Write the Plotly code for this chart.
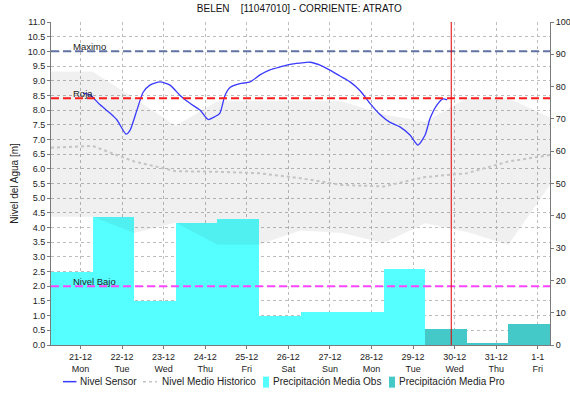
import plotly.graph_objects as go

# ---------------- data ----------------
# daily precipitation (mm) – days run 07:00 to 07:00
obs_centers = ["2020-12-20 19:00", "2020-12-21 19:00", "2020-12-22 19:00", "2020-12-23 19:00",
               "2020-12-24 19:00", "2020-12-25 19:00", "2020-12-26 19:00", "2020-12-27 19:00",
               "2020-12-28 19:00"]
obs_precip = [22.7, 39.5, 13.6, 37.9, 38.9, 9.1, 10.3, 10.3, 23.6]

pro_centers = ["2020-12-29 19:00", "2020-12-30 19:00", "2020-12-31 19:00"]
pro_precip = [4.9, 0.4, 6.5]

# historic band and mean (m), daily points at 07:00
hist_times = ["2020-12-20 07:00", "2020-12-21 07:00", "2020-12-22 07:00", "2020-12-23 07:00",
              "2020-12-24 07:00", "2020-12-25 07:00", "2020-12-26 07:00", "2020-12-27 07:00",
              "2020-12-28 07:00", "2020-12-29 07:00", "2020-12-30 07:00", "2020-12-31 07:00",
              "2021-01-01 07:00"]
hist_max = [9.31, 9.31, 8.40, 7.47, 8.30, 8.32, 8.32, 8.30, 7.85, 7.60, 8.40, 8.40, 7.75]
hist_min = [4.37, 4.37, 3.81, 4.16, 3.41, 3.41, 3.90, 3.81, 3.47, 4.15, 3.85, 3.41, 5.45]
hist_mean = [6.72, 6.78, 6.25, 5.92, 5.90, 5.85, 5.68, 5.45, 5.40, 5.72, 5.85, 6.25, 6.47]

# sensor level (m)
sensor_times = ["2020-12-21 01:30", "2020-12-21 05:30", "2020-12-21 11:20", "2020-12-21 17:00",
                "2020-12-21 21:00", "2020-12-22 02:20", "2020-12-22 04:36", "2020-12-22 08:36",
                "2020-12-22 12:06", "2020-12-22 16:06", "2020-12-22 21:54", "2020-12-23 03:42",
                "2020-12-23 09:30", "2020-12-23 15:12", "2020-12-23 21:00", "2020-12-24 01:36",
                "2020-12-24 05:42", "2020-12-24 08:30", "2020-12-24 11:24", "2020-12-24 14:18",
                "2020-12-24 20:06", "2020-12-25 01:54", "2020-12-25 07:36", "2020-12-25 13:24",
                "2020-12-25 19:12", "2020-12-26 01:00", "2020-12-26 06:42", "2020-12-26 12:30",
                "2020-12-26 18:18", "2020-12-27 00:00", "2020-12-27 05:48", "2020-12-27 11:36",
                "2020-12-27 17:24", "2020-12-27 23:06", "2020-12-28 04:54", "2020-12-28 10:42",
                "2020-12-28 16:24", "2020-12-28 22:12", "2020-12-29 02:48", "2020-12-29 06:54",
                "2020-12-29 09:48", "2020-12-29 13:48", "2020-12-29 17:18", "2020-12-29 19:36"]
sensor_level = [8.57, 8.52, 8.18, 7.90, 7.67, 7.18, 7.31, 8.00, 8.60, 8.85, 8.96, 8.85,
                8.50, 8.23, 8.00, 7.68, 7.78, 7.90, 8.50, 8.77, 8.90, 8.96, 9.20, 9.37,
                9.47, 9.56, 9.60, 9.63, 9.53, 9.36, 9.16, 8.96, 8.66, 8.23, 7.85, 7.58,
                7.43, 7.15, 6.81, 7.15, 7.72, 8.18, 8.38, 8.35]

# thresholds (m)
thr_names = ["Maximo", "Roja", "Nivel Bajo"]
thr_values = [10.0, 8.4, 2.0]
thr_colors = ["#6272A4", "#FF1A1A", "#FF44FF"]

now_time = "2020-12-29 22:00"

tick_vals = ["2020-12-21", "2020-12-22", "2020-12-23", "2020-12-24", "2020-12-25", "2020-12-26",
             "2020-12-27", "2020-12-28", "2020-12-29", "2020-12-30", "2020-12-31", "2021-01-01"]
tick_text = ["21-12<br>Mon", "22-12<br>Tue", "23-12<br>Wed", "24-12<br>Thu", "25-12<br>Fri",
             "26-12<br>Sat", "27-12<br>Sun", "28-12<br>Mon", "29-12<br>Tue", "30-12<br>Wed",
             "31-12<br>Thu", "1-1<br>Fri"]

legend_names = ["Nivel Sensor", "Nivel Medio Historico",
                "Precipitación Media Obs", "Precipitación Media Pro"]

x_range = ["2020-12-20 07:00", "2021-01-01 07:00"]
DAY_MS = 86400000

FONT = "Liberation Sans, Arial, sans-serif"
COL_SENSOR = "#3A3AFF"
COL_MEAN = "#C4C4C4"
COL_OBS = "#55FFFF"
COL_PRO = "#44C8C8"

fig = go.Figure()

# precipitation bars on main (right) axis
fig.add_trace(go.Bar(x=obs_centers, y=obs_precip, width=[DAY_MS] * len(obs_centers),
                     marker=dict(color=COL_OBS, line=dict(width=0)),
                     name=legend_names[2], yaxis="y", showlegend=False))
fig.add_trace(go.Bar(x=pro_centers, y=pro_precip, width=[DAY_MS] * len(pro_centers),
                     marker=dict(color=COL_PRO, line=dict(width=0)),
                     name=legend_names[3], yaxis="y", showlegend=False))

# historic band
fig.add_trace(go.Scatter(x=hist_times, y=hist_max, mode="lines", line=dict(width=0),
                         showlegend=False, yaxis="y2", hoverinfo="skip"))
fig.add_trace(go.Scatter(x=hist_times, y=hist_min, mode="lines", line=dict(width=0),
                         fill="tonexty", fillcolor="rgba(0,0,0,0.058)",
                         showlegend=False, yaxis="y2", hoverinfo="skip"))

# sensor line
fig.add_trace(go.Scatter(x=sensor_times, y=sensor_level, mode="lines",
                         line=dict(color=COL_SENSOR, width=1.3, shape="spline", smoothing=0.6),
                         name=legend_names[0], yaxis="y2", showlegend=False))
# historic mean
fig.add_trace(go.Scatter(x=hist_times, y=hist_mean, mode="lines",
                         line=dict(color=COL_MEAN, width=2, dash="dot"),
                         name=legend_names[1], yaxis="y2", showlegend=False))

# threshold lines
for nm, v, c in zip(thr_names, thr_values, thr_colors):
    fig.add_shape(type="line", xref="paper", x0=0, x1=1, yref="y2", y0=v, y1=v,
                  line=dict(color=c, width=2, dash="8px,4px"), layer="above")
    fig.add_annotation(x=0.040, xref="paper", xanchor="left", y=v, yref="y2", yanchor="bottom",
                       yshift=-3, text=nm, showarrow=False,
                       font=dict(family=FONT, size=9.5, color="#222222"))

# "now" line
fig.add_shape(type="line", x0=now_time, x1=now_time, xref="x", yref="paper", y0=0, y1=1,
              line=dict(color="#E00000", width=1), layer="above")

# legend drawn below the chart (symbols + labels)
LEG_Y = -0.1135
fig.add_shape(type="line", xref="paper", yref="paper", x0=0.024, x1=0.051, y0=LEG_Y, y1=LEG_Y,
              line=dict(color=COL_SENSOR, width=1.5))
fig.add_shape(type="line", xref="paper", yref="paper", x0=0.1844, x1=0.2124, y0=LEG_Y, y1=LEG_Y,
              line=dict(color=COL_MEAN, width=1.5, dash="3px,3px"))
fig.add_shape(type="rect", xref="paper", yref="paper", x0=0.4248, x1=0.4369, y0=-0.098, y1=-0.132,
              line=dict(width=0), fillcolor=COL_OBS)
fig.add_shape(type="rect", xref="paper", yref="paper", x0=0.6774, x1=0.6894, y0=-0.098, y1=-0.132,
              line=dict(width=0), fillcolor=COL_PRO)
for nm, lx in zip(legend_names, [0.0561, 0.2204, 0.4429, 0.6944]):
    fig.add_annotation(x=lx, xref="paper", xanchor="left", y=LEG_Y, yref="paper",
                       yanchor="middle", text=nm, showarrow=False, borderpad=0,
                       font=dict(family=FONT, size=10, color="#222222"))

grid_col = "#BDBDBD"
axis_col = "#7A7A7A"
fig.update_layout(
    width=570, height=404,
    margin=dict(l=51, r=20, t=22, b=59, autoexpand=False),
    paper_bgcolor="white", plot_bgcolor="white",
    font=dict(family=FONT, size=9, color="#222222"),
    title=dict(text="BELEN\u00a0\u00a0\u00a0\u00a0[11047010] - CORRIENTE: ATRATO",
               x=0.525, xanchor="center", y=0.978, yanchor="middle",
               font=dict(family=FONT, size=10, color="#111111")),
    barmode="overlay", bargap=0,
    showlegend=False,
    xaxis=dict(type="date", range=x_range, tickmode="array", tickvals=tick_vals,
               ticktext=tick_text, showgrid=True, gridcolor=grid_col, griddash="dot",
               gridwidth=1, showline=True, linecolor=axis_col, linewidth=1,
               ticks="outside", ticklen=3, tickcolor=axis_col, zeroline=False,
               automargin=False,
               tickfont=dict(family=FONT, size=9, color="#222222")),
    yaxis=dict(range=[0, 100], dtick=10, side="right", showgrid=False, zeroline=False,
               showline=True, linecolor=axis_col, linewidth=1, ticks="outside",
               ticklen=3, tickcolor=axis_col, automargin=False,
               tickfont=dict(family=FONT, size=9, color="#222222")),
    yaxis2=dict(range=[0, 11], dtick=0.5, tickformat=".1f", side="left", overlaying="y",
                showgrid=True, gridcolor=grid_col, griddash="dot", gridwidth=1,
                zeroline=False, showline=True, linecolor=axis_col, linewidth=1,
                ticks="outside", ticklen=3, tickcolor=axis_col, automargin=False,
                tickfont=dict(family=FONT, size=9, color="#222222"),
                title=dict(text="Nivel del Agua [m]", standoff=7,
                           font=dict(family=FONT, size=10, color="#222222"))),
)

fig.write_html("out.html", config={"displayModeBar": False},
               post_script="document.body.style.margin='0';")
